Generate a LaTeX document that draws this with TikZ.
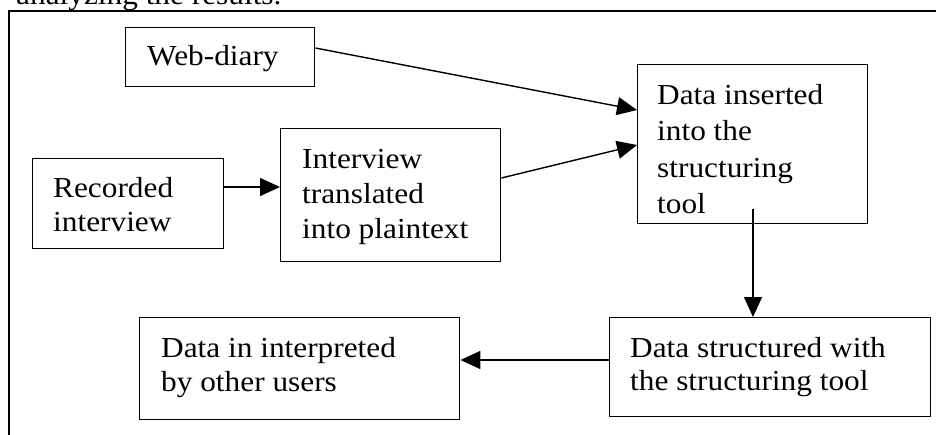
\documentclass[tikz,border=0pt]{standalone}
\usepackage{fontspec}
\setmainfont[FakeStretch=1.08]{Liberation Serif}
\usetikzlibrary{arrows.meta,calc}
\begin{document}
\begin{tikzpicture}[x=1pt,y=-1pt,
  box/.style={draw, line width=1.4pt, inner sep=0pt, anchor=north west},
  label/.style={anchor=north west, inner sep=0pt, align=left, font=\fontsize{29}{34}\selectfont},
  flow/.style={line width=1.4pt, -{Triangle[length=20pt,width=18pt]}}]
\useasboundingbox (0,0) rectangle (936,434);
\clip (0,0) rectangle (936,434);

% surrounding frame and the line of text above it
\draw[line width=1.4pt] (9,450) -- (9,11) -- (950,11);
\node[label] (caption) at (16,-19.8) {\strut analyzing the results.};

% process boxes
\node[box, minimum width=189pt, minimum height=59pt]  (web)  at (125,27)  {};
\node[box, minimum width=191pt, minimum height=90pt]  (rec)  at (32,158)  {};
\node[box, minimum width=220pt, minimum height=133pt] (intv) at (280,128) {};
\node[box, minimum width=230pt, minimum height=159pt] (ins)  at (637,64)  {};
\node[box, minimum width=321pt, minimum height=99pt]  (str)  at (609,317) {};
\node[box, minimum width=320pt, minimum height=102pt] (intp) at (139,317) {};

% box texts, top-left aligned
\node[label] (webtxt)  at (147,41.2)  {\strut Web-diary};
\node[label] (rectxt)  at (53,173.2)  {\strut Recorded\\interview};
\node[label, font=\fontsize{29}{35}\selectfont] (intvtxt) at (302,143.5) {\strut Interview\\translated\\into plaintext};
\node[label, font=\fontsize{29}{36.5}\selectfont] (instxt) at (657,78.5) {\strut Data inserted\\into the\\structuring\\tool};
\node[label, font=\fontsize{29}{33}\selectfont] (strtxt) at (630,333.9) {\strut Data structured with\\the structuring tool};
\node[label] (intptxt) at (161,333.2) {\strut Data in interpreted\\by other users};

% connectors
\draw[flow] ($(web.north east)+(0,21)$) -- ($(ins.north west)+(0,46)$);
\draw[flow] ($(intv.north east)+(0,50)$) -- ($(ins.north west)+(0,81)$);
\draw[flow] ($(rec.north east)+(0,29)$) -- ($(intv.north west)+(0,59)$);
\draw[flow] ($(ins.south west)+(116,-15)$) -- ($(str.north west)+(144,0)$);
\draw[flow] ($(str.north west)+(0,43)$) -- ($(intp.north east)+(0,43)$);
\end{tikzpicture}
\end{document}
